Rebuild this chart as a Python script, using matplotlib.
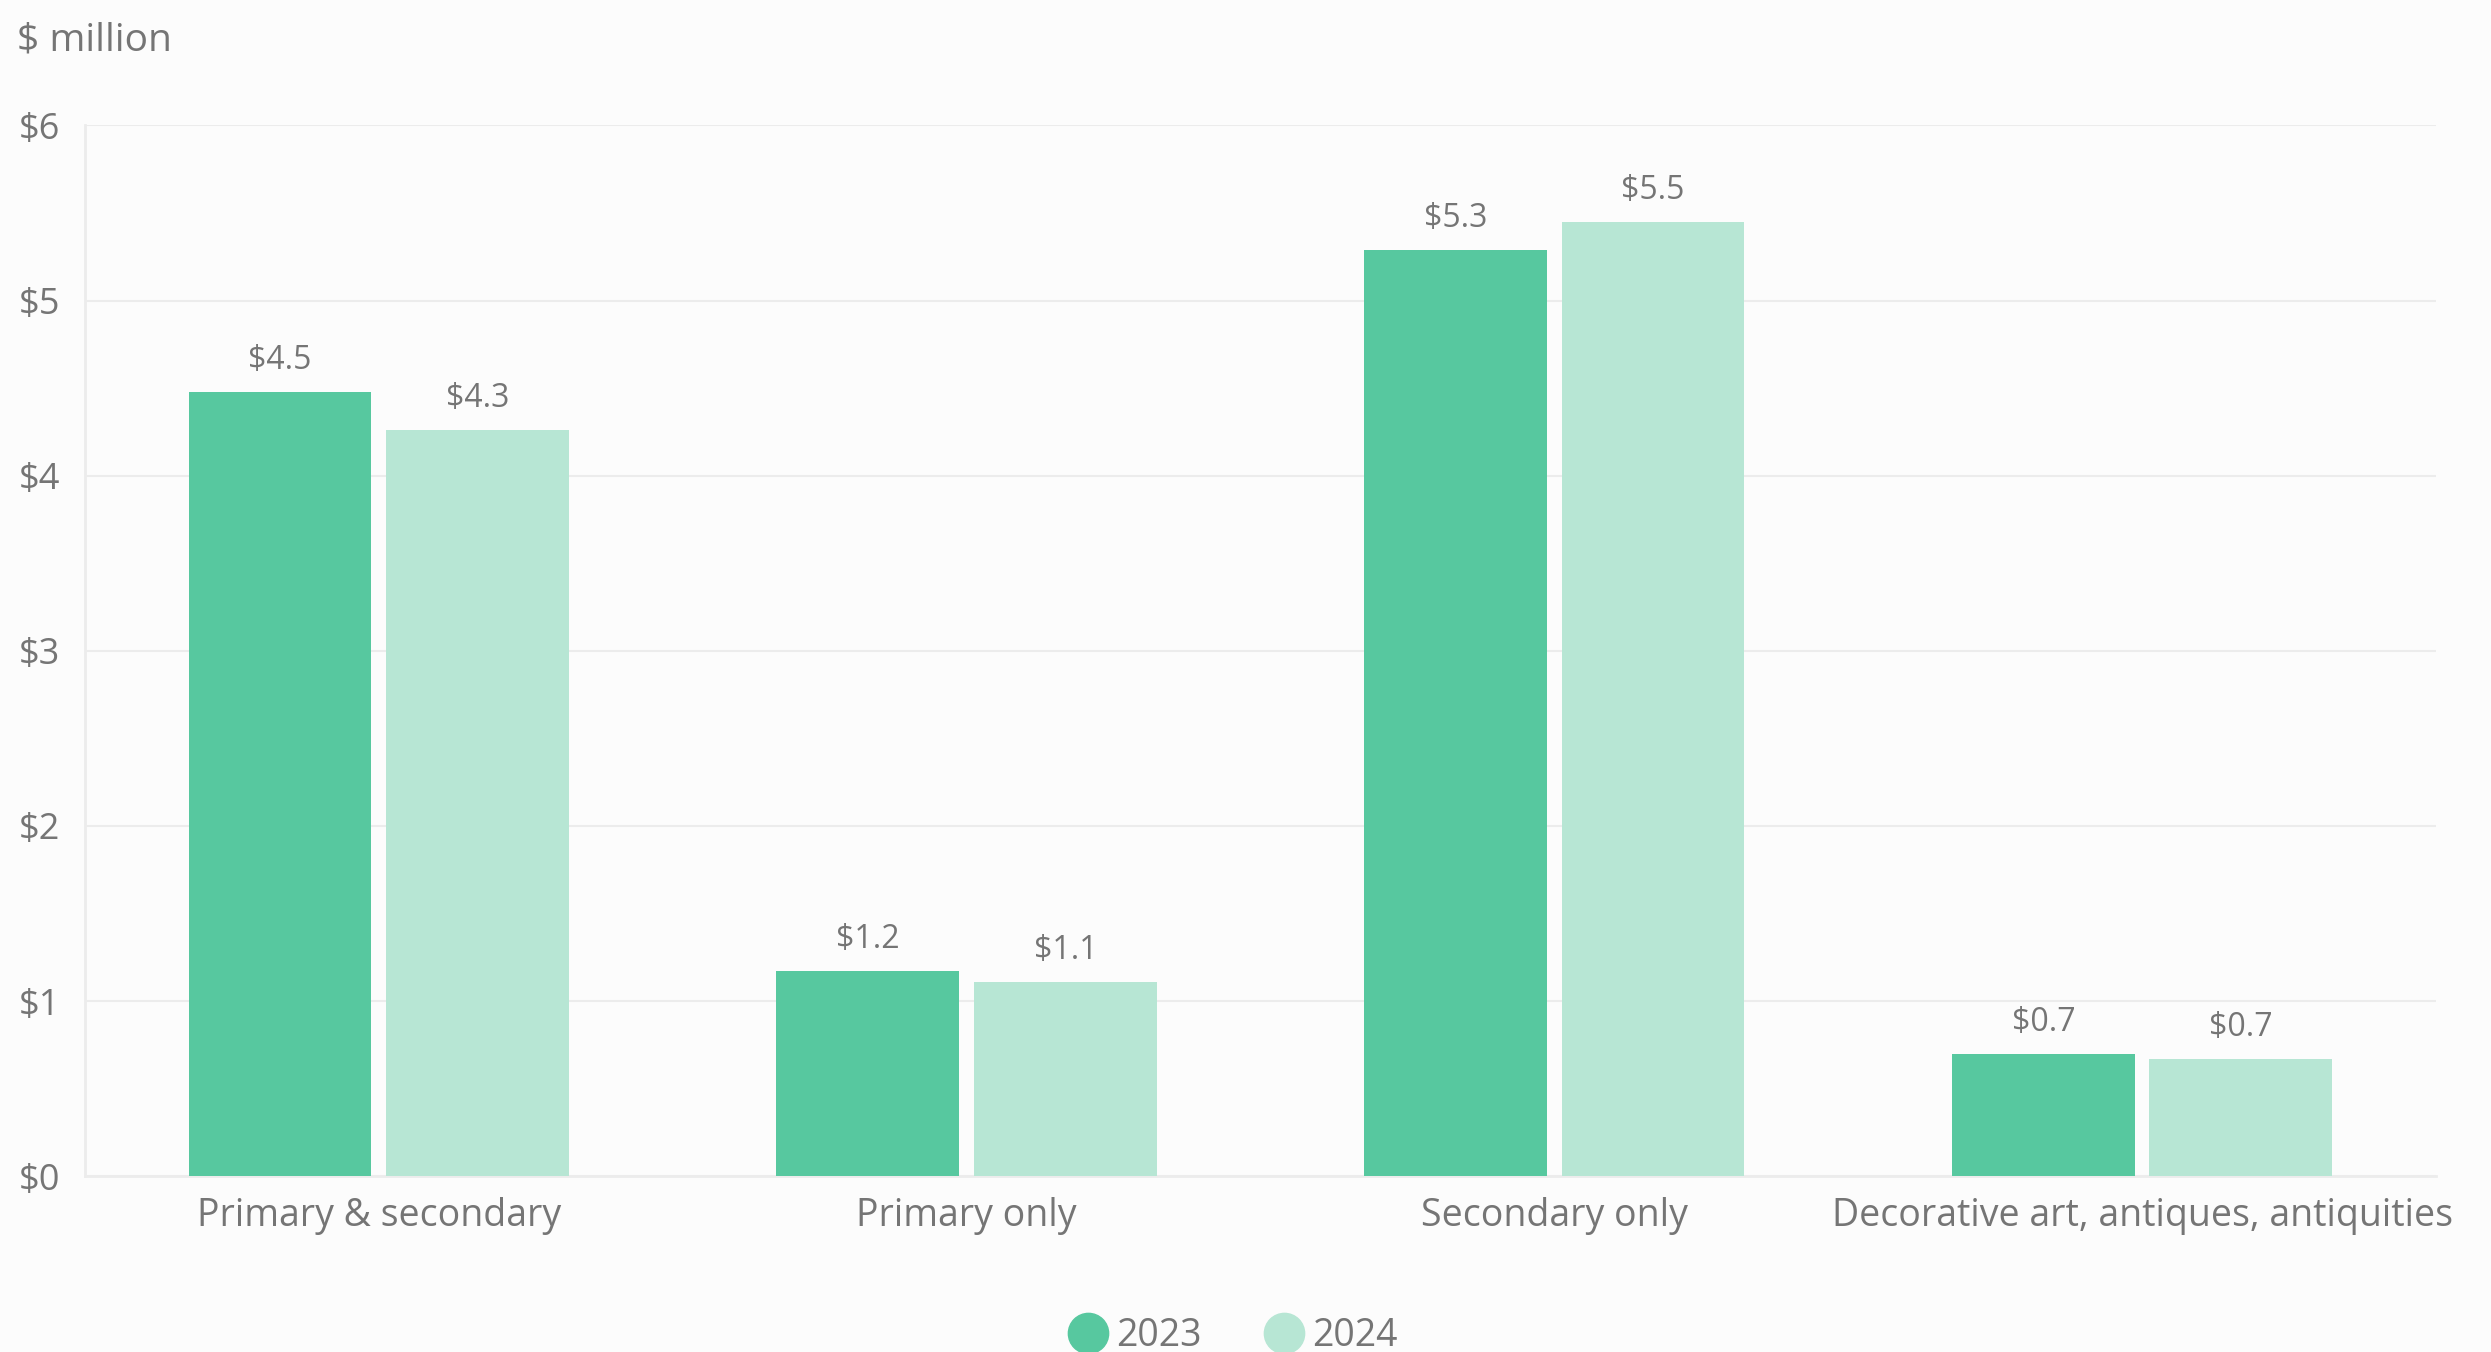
import numpy as np
import matplotlib.pyplot as plt
from matplotlib.lines import Line2D

plt.rcParams['font.family'] = ['Open Sans', 'DejaVu Sans']

categories = ["Primary & secondary", "Primary only", "Secondary only",
              "Decorative art, antiques, antiquities"]
years = ["2023", "2024"]
sales_2023 = [4.48, 1.17, 5.29, 0.70]
sales_2024 = [4.26, 1.11, 5.45, 0.67]
y_ticks = [0, 1, 2, 3, 4, 5, 6]

colors = ["#57c89f", "#b7e6d4"]
text_color = "#757575"
grid_color = "#ececec"
bg = "#fcfcfc"

fig = plt.figure(figsize=(24.91, 13.52), dpi=100, facecolor=bg)
ax = fig.add_axes([0.0341, 0.130, 0.9438, 0.7772], facecolor=bg)

x = np.arange(len(categories))
width = 0.311
offset = 0.168
for i, (vals, year) in enumerate(zip([sales_2023, sales_2024], years)):
    pos = x + (i * 2 - 1) * offset
    bars = ax.bar(pos, vals, width, color=colors[i], zorder=3)
    for b, v in zip(bars, vals):
        ax.text(b.get_x() + b.get_width() / 2, v + 0.085, f"${v:.1f}",
                ha="center", va="bottom", fontsize=23, color=text_color)

ax.set_xlim(-0.5, len(categories) - 0.5)
ax.set_ylim(0, 6)
ax.set_yticks(y_ticks)
ax.set_yticklabels([f"${t}" for t in y_ticks])
ax.set_xticks(x)
ax.set_xticklabels(categories)
ax.tick_params(axis="y", length=0, pad=18, labelsize=26, labelcolor=text_color)
ax.tick_params(axis="x", length=0, pad=15, labelsize=27, labelcolor=text_color)
ax.grid(axis="y", color=grid_color, linewidth=1.5, zorder=0)
for side in ["top", "right"]:
    ax.spines[side].set_visible(False)
for side in ["left", "bottom"]:
    ax.spines[side].set_color(grid_color)
    ax.spines[side].set_linewidth(2)

fig.text(0.007, 0.970, "$ million", fontsize=28, color=text_color,
         ha="left", va="center")

handles = [Line2D([], [], marker="o", linestyle="", markersize=29,
                  markerfacecolor=c, markeredgecolor=c) for c in colors]
fig.legend(handles, years, loc="center", bbox_to_anchor=(0.495, 0.012),
           ncol=2, frameon=False, fontsize=27, labelcolor=text_color,
           handletextpad=0.25, columnspacing=1.7, handlelength=1.0)

fig.savefig("out.png", dpi=100, facecolor=bg)
